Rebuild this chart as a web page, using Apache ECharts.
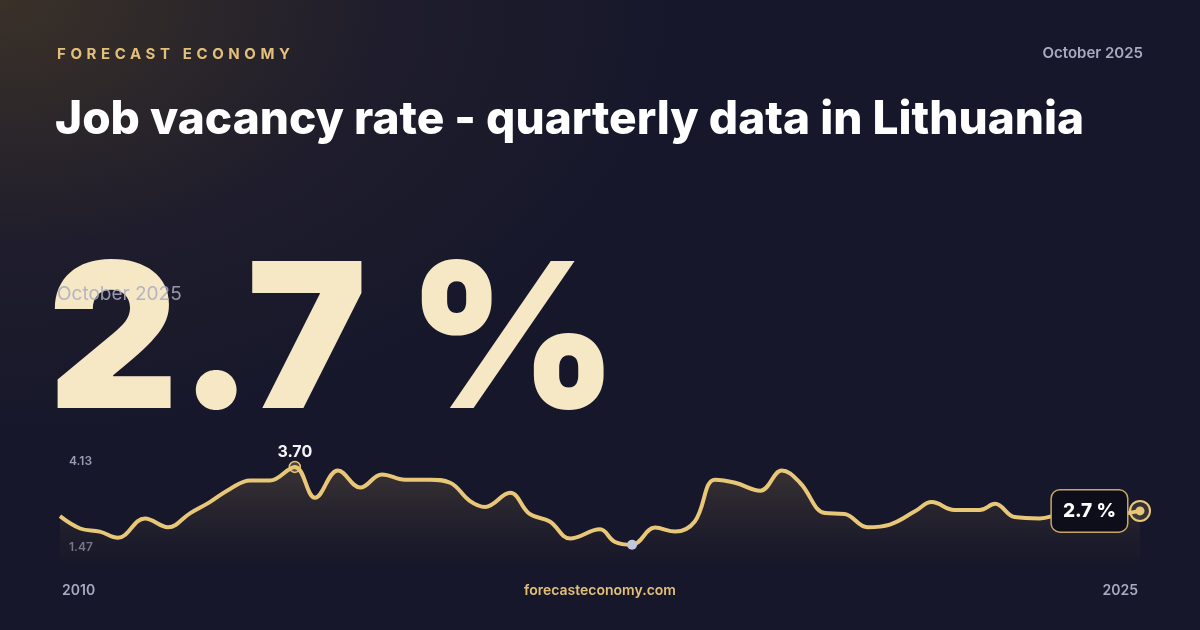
<!DOCTYPE html>
<html lang="en">
<head>
<meta charset="UTF-8">
<title>Job vacancy rate - Lithuania</title>
<script src="https://cdn.jsdelivr.net/npm/echarts@6/dist/echarts.min.js"></script>
<style>
    html, body { margin: 0; padding: 0; }
    body {
        width: 1200px; height: 630px; overflow: hidden; position: relative;
        background: radial-gradient(ellipse 700px 450px at 0px 0px, #3a3128 0%, #1f1d2c 55%, transparent 100%), #16172b;
    }
    #container { width: 1200px; height: 630px; }
    .brand {
        position: absolute; left: 57px; top: 44px; z-index: 2;
        font: 700 15px Inter, sans-serif; letter-spacing: 4.6px; color: #e3c07a;
    }
</style>
</head>
<body>
<div class="brand">FORECAST ECONOMY</div>
<div id="container"></div>
<script type="text/javascript">
    // fractional year of each sample and job vacancy rate (%)
    const years = [2010.00, 2010.29, 2010.57, 2010.83, 2011.22, 2011.55, 2011.87, 2012.15, 2012.44, 2012.73,
        2013.01, 2013.37, 2013.66, 2013.99, 2014.31, 2014.62, 2014.95, 2015.31, 2015.60, 2015.88,
        2016.10, 2016.46, 2016.74, 2017.03, 2017.32, 2017.75, 2017.96, 2018.21, 2018.54, 2018.83,
        2019.11, 2019.40, 2019.69, 2020.05, 2020.36, 2020.62, 2020.98, 2021.26, 2021.59, 2021.91,
        2022.27, 2022.51, 2022.84, 2023.20, 2023.42, 2023.70, 2024.06, 2024.35, 2024.75, 2025.10, 2025.50];
    const rates = [2.58, 2.30, 2.23, 2.09, 2.53, 2.33, 2.65, 2.90, 3.20, 3.39,
        3.39, 3.70, 3.00, 3.62, 3.23, 3.53, 3.41, 3.41, 3.34, 2.93,
        2.79, 3.11, 2.63, 2.46, 2.07, 2.28, 2.00, 1.93, 2.32, 2.23,
        2.46, 3.41, 3.34, 3.16, 3.62, 3.34, 2.65, 2.63, 2.33, 2.39,
        2.69, 2.90, 2.72, 2.72, 2.86, 2.56, 2.53, 2.62, 2.68, 2.62, 2.70];
    const axisLabels = ['4.13', '1.47'];
    const yearLabels = ['2010', '2025'];
    const headline = '2.7 %';
    const period = 'October 2025';

    let points = years.map(function (y, i) { return [y, rates[i]]; });
    let peakIdx = rates.indexOf(Math.max.apply(null, rates));
    let lowIdx = rates.indexOf(Math.min.apply(null, rates));
    let lastIdx = rates.length - 1;

    let chart = echarts.init(document.getElementById('container'));
    let option = {
        backgroundColor: 'transparent',
        grid: { left: 60, right: 60, top: 448, height: 117 },
        xAxis: { type: 'value', min: 2010, max: 2025.5, show: false },
        yAxis: { type: 'value', min: 1.47, max: 4.13, show: false },
        graphic: [
            { type: 'text', right: 57, top: 46, style: { text: period, fill: '#a9a9c2', font: '600 15px Inter', textAlign: 'right' } },
            { type: 'text', left: 55, top: 97, style: { text: 'Job vacancy rate - quarterly data in Lithuania', fill: '#ffffff', font: '800 46px Inter' } },
            { type: 'text', left: 48, top: 246, style: {
                text: headline, font: '900 202px Inter', fill: '#f6e8c4',
                shadowColor: 'rgba(0,0,0,0.55)', shadowBlur: 25, shadowOffsetY: 10 } },
            { type: 'text', left: 57, top: 285, style: { text: period, fill: 'rgba(170,170,195,0.85)', font: '400 19px Inter' } },
            { type: 'text', left: 69, top: 455, style: { text: axisLabels[0], fill: '#9a9ab4', font: '600 12px Inter' } },
            { type: 'text', left: 69, top: 541, style: { text: axisLabels[1], fill: '#9a9ab4', font: '600 12px Inter' } },
            { type: 'text', left: 62, top: 584, style: { text: yearLabels[0], fill: '#a9a9c2', font: '600 14px Inter' } },
            { type: 'text', right: 62, top: 584, style: { text: yearLabels[1], fill: '#a9a9c2', font: '600 14px Inter', textAlign: 'right' } },
            { type: 'text', left: 'center', top: 584, style: { text: 'forecasteconomy.com', fill: '#e3c07a', font: '600 14px Inter' } }
        ],
        series: [{
            type: 'line',
            data: points,
            smooth: 0.4,
            showSymbol: false,
            lineStyle: { color: '#e8c777', width: 4 },
            areaStyle: {
                color: new echarts.graphic.LinearGradient(0, 0, 0, 1, [
                    { offset: 0, color: 'rgba(110,90,65,0.6)' }, { offset: 1, color: 'rgba(25,25,40,0.4)' }])
            },
            markPoint: {
                symbol: 'circle',
                data: [
                    { coord: points[peakIdx], symbolSize: 11,
                      itemStyle: { color: 'rgba(232,199,119,0.25)', borderColor: '#e8c777', borderWidth: 1.5 },
                      label: { show: true, position: 'top', distance: 0, formatter: rates[peakIdx].toFixed(2), color: '#f4f4f8', fontSize: 16, fontWeight: 700, fontFamily: 'Inter' } },
                    { coord: points[lowIdx], symbolSize: 10, itemStyle: { color: '#c4c6dc' }, label: { show: false } },
                    { coord: points[lastIdx], symbolSize: 20,
                      itemStyle: { color: 'rgba(232,199,119,0.15)', borderColor: '#e8c777', borderWidth: 2 },
                      label: { show: true, position: 'left', distance: 2, formatter: headline, color: '#ffffff', fontSize: 19, fontWeight: 800, fontFamily: 'Inter',
                          backgroundColor: '#0e0e1a', borderColor: '#c9a85e', borderWidth: 1.5, borderRadius: 8, padding: [12, 11, 10, 11] } },
                    { coord: points[lastIdx], symbolSize: 9, itemStyle: { color: '#e8c777' }, label: { show: false } }
                ]
            }
        }]
    };
    chart.setOption(option);
</script>
</body>
</html>
